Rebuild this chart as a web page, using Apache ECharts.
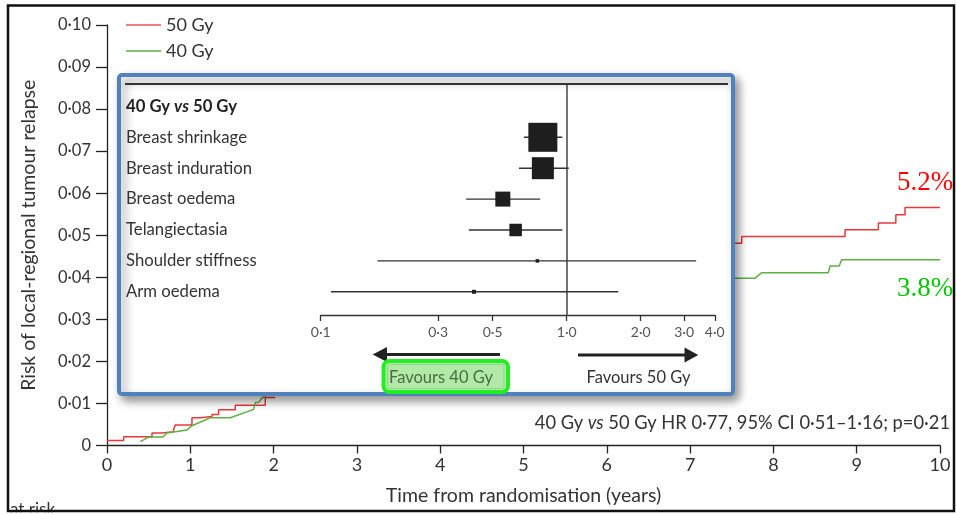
<!DOCTYPE html>
<html><head><meta charset="utf-8">
<script src="https://cdn.jsdelivr.net/npm/echarts@6/dist/echarts.min.js"></script>
<style>html,body{margin:0;padding:0;background:#fff;}#c{width:956px;height:515px;}</style>
</head><body><div id="c"></div>
<script>
// ---------- main chart data (time in years, cumulative risk) ----------
// null marks the part hidden behind the inset panel
const gy50Time = [0, 0.20, 0.54, 0.66, 0.80, 0.82, 1.02, 1.12, 1.26, 1.34, 1.54, 1.90, 2.02, null, 7.50, 7.62, 8.86, 9.26, 9.47, 9.58, 10.0];
const gy50Risk = [0.0012, 0.0021, 0.0030, 0.0033, 0.0039, 0.0049, 0.0066, 0.0069, 0.0074, 0.0085, 0.0096, 0.0114, 0.0114, null, 0.0481, 0.0497, 0.0513, 0.0529, 0.0549, 0.0566, 0.0566];
const gy40Time = [0.40, 0.50, 0.67, 0.72, 0.96, 1.02, 1.24, 1.48, 1.76, 1.78, 1.82, 1.86, 1.90, null, 7.50, 7.78, 7.86, 8.66, 8.68, 8.79, 8.82, 10.0];
const gy40Risk = [0.0009, 0.0020, 0.0020, 0.0030, 0.0037, 0.0047, 0.0066, 0.0066, 0.0086, 0.0102, 0.0102, 0.0113, 0.0117, null, 0.0398, 0.0398, 0.0411, 0.0411, 0.0427, 0.0427, 0.0442, 0.0442];
const xTicks = [0, 1, 2, 3, 4, 5, 6, 7, 8, 9, 10];
const yTicks = [0, 0.01, 0.02, 0.03, 0.04, 0.05, 0.06, 0.07, 0.08, 0.09, 0.10];

// ---------- inset forest plot data ----------
const forestHeader = '40 Gy vs 50 Gy';
const outcomes = ['Breast shrinkage', 'Breast induration', 'Breast oedema', 'Telangiectasia', 'Shoulder stiffness', 'Arm oedema'];
const hr = [0.80, 0.80, 0.55, 0.62, 0.76, 0.42];
const ciLow = [0.67, 0.64, 0.39, 0.40, 0.17, 0.11];
const ciHigh = [0.96, 1.02, 0.78, 0.96, 3.36, 1.62];
const weight = [29, 22, 15, 12.5, 3.5, 4];
const forestTicks = [0.1, 0.3, 0.5, 1.0, 2.0, 3.0, 4.0];

// ---------- build ----------
const FONT = 'Lato';
const TXT = '#333';
const dot = s => String(s).replace('.', '\u00b7');
function pairs(t, r) { return t.map((x, i) => (x === null || r[i] === null) ? ['-', '-'] : [x, r[i]]); }
const L = Math.log10;

const chart = echarts.init(document.getElementById('c'), null, {renderer: 'canvas'});
const option = {
  animation: false,
  backgroundColor: '#fff',
  textStyle: {fontFamily: FONT},
  legend: {
    orient: 'vertical', left: 121, top: 10, padding: 5, itemWidth: 35, itemHeight: 1.5, itemGap: 6,
    icon: 'rect',
    data: ['50 Gy', '40 Gy'],
    textStyle: {fontFamily: FONT, fontSize: 18, color: TXT, lineHeight: 20}
  },
  grid: [
    {left: 107, top: 25, width: 833, height: 420.5},
    {left: 320.7, top: 83.5, width: 394.1, height: 231.5, z: 10}
  ],
  xAxis: [
    {gridIndex: 0, type: 'value', min: xTicks[0], max: xTicks[xTicks.length - 1], interval: 1,
     name: 'Time from randomisation (years)', nameLocation: 'middle', nameGap: 40,
     nameTextStyle: {fontFamily: FONT, fontSize: 19.5, color: TXT},
     axisLine: {show: true, onZero: false, lineStyle: {color: '#222', width: 1.3}},
     axisTick: {show: true, inside: false, length: 8, lineStyle: {color: '#222', width: 1.3}},
     axisLabel: {fontFamily: FONT, fontSize: 18, color: TXT, margin: 11},
     splitLine: {show: false}},
    {gridIndex: 1, type: 'value', min: L(forestTicks[0]), max: L(forestTicks[forestTicks.length - 1]), z: 10,
     axisLine: {show: true, onZero: false, lineStyle: {color: '#333', width: 1.3}},
     axisTick: {show: true, inside: false, length: 6, customValues: forestTicks.map(L), lineStyle: {color: '#333', width: 1.3}},
     axisLabel: {customValues: forestTicks.map(L), fontFamily: FONT, fontSize: 14, color: '#555', margin: 10,
       formatter: v => dot(Math.pow(10, v).toFixed(1))},
     splitLine: {show: false}}
  ],
  yAxis: [
    {gridIndex: 0, type: 'value', min: yTicks[0], max: yTicks[yTicks.length - 1], interval: 0.01,
     name: 'Risk of local-regional tumour relapse', nameLocation: 'middle', nameGap: 68,
     nameTextStyle: {fontFamily: FONT, fontSize: 19.5, color: TXT},
     axisLine: {show: true, onZero: false, lineStyle: {color: '#222', width: 1.3}},
     axisTick: {show: true, inside: false, length: 11, lineStyle: {color: '#222', width: 1.3}},
     axisLabel: {fontFamily: FONT, fontSize: 16.5, color: TXT, margin: 16,
       formatter: v => v === 0 ? '0' : dot(v.toFixed(2))},
     splitLine: {show: false}},
    {gridIndex: 1, type: 'value', inverse: true, min: -0.741, max: 6.751, z: 10,
     axisLine: {show: false}, axisTick: {show: false}, splitLine: {show: false},
     axisLabel: {customValues: [0, 1, 2, 3, 4, 5, 6], align: 'left', margin: 194.7,
       fontFamily: FONT, fontSize: 16.7, color: TXT,
       formatter: v => {
         const i = Math.round(v);
         if (i === 0) { const p = forestHeader.split(' vs '); return '{h|' + p[0] + ' }{hv|vs}{h| ' + p[1] + '}'; }
         return outcomes[i - 1];
       },
       rich: {
         h: {fontFamily: FONT, fontSize: 16.7, fontWeight: 'bold', color: '#222'},
         hv: {fontFamily: FONT, fontSize: 16.7, fontWeight: 'bold', fontStyle: 'italic', color: '#222'}
       }}}
  ],
  series: [
    {name: '50 Gy', type: 'line', xAxisIndex: 0, yAxisIndex: 0, step: 'end', symbol: 'none',
     data: pairs(gy50Time, gy50Risk), connectNulls: false,
     lineStyle: {color: '#e8383a', width: 1.5}, itemStyle: {color: '#ee5555'}, z: 2},
    {name: '40 Gy', type: 'line', xAxisIndex: 0, yAxisIndex: 0, symbol: 'none',
     data: pairs(gy40Time, gy40Risk), connectNulls: false,
     lineStyle: {color: '#5fb043', width: 1.5}, itemStyle: {color: '#5fb043'}, z: 2},
    {name: 'ci', type: 'custom', coordinateSystem: 'cartesian2d', xAxisIndex: 1, yAxisIndex: 1, z: 10,
     data: outcomes.map((o, i) => [L(ciLow[i]), L(ciHigh[i]), i + 1]),
     encode: {x: [0, 1], y: 2},
     renderItem: (params, api) => {
       const a = api.coord([api.value(0), api.value(2)]);
       const b = api.coord([api.value(1), api.value(2)]);
       return {type: 'line', shape: {x1: a[0], y1: a[1], x2: b[0], y2: b[1]},
               style: {stroke: '#333', lineWidth: 1.4}};
     }},
    {name: 'hr', type: 'scatter', xAxisIndex: 1, yAxisIndex: 1, z: 11, symbol: 'rect',
     data: outcomes.map((o, i) => [L(hr[i]), i + 1]),
     symbolSize: (v, p) => weight[p.dataIndex],
     itemStyle: {color: '#1e1e1e', opacity: 1},
     markLine: {silent: true, symbol: 'none', label: {show: false},
       lineStyle: {color: '#444', width: 1.5, type: 'solid'}, data: [{xAxis: 0}]}}
  ],
  graphic: [
    {type: 'rect', z: 5, shape: {x: 119, y: 75, width: 614, height: 319, r: 3},
     style: {fill: '#fff', stroke: '#4f81bd', lineWidth: 4, shadowBlur: 10, shadowOffsetX: 4, shadowOffsetY: 5, shadowColor: 'rgba(0,0,0,0.4)'}},
    {type: 'line', z: 6, shape: {x1: 125, y1: 84, x2: 728, y2: 84}, style: {stroke: '#333', lineWidth: 2}},
    {type: 'line', z: 6, shape: {x1: 500, y1: 354.5, x2: 384, y2: 354.5}, style: {stroke: '#222', lineWidth: 3}},
    {type: 'polygon', z: 6, shape: {points: [[372.7, 354.5], [387, 347], [387, 362]]}, style: {fill: '#222'}},
    {type: 'line', z: 6, shape: {x1: 578, y1: 355, x2: 687, y2: 355}, style: {stroke: '#222', lineWidth: 3}},
    {type: 'polygon', z: 6, shape: {points: [[698.3, 355], [684.5, 347.5], [684.5, 362.5]]}, style: {fill: '#222'}},
    {type: 'rect', z: 7, shape: {x: 383.5, y: 361, width: 124.5, height: 31, r: 6},
     style: {fill: '#b0eaa6', stroke: '#22ee22', lineWidth: 4}},
    {type: 'rect', z: 7, shape: {x: 387.5, y: 364.5, width: 116.5, height: 24, r: 2},
     style: {fill: 'none', stroke: '#8fd68a', lineWidth: 1}},
    {type: 'text', z: 8, style: {x: 441, y: 378, text: 'Favours 40 Gy', align: 'center', verticalAlign: 'middle',
     fontFamily: FONT, fontSize: 16.5, fill: '#4d6b45'}},
    {type: 'text', z: 8, style: {x: 638.5, y: 378, text: 'Favours 50 Gy', align: 'center', verticalAlign: 'middle',
     fontFamily: FONT, fontSize: 16.5, fill: TXT}},
    {type: 'text', z: 3, style: {x: 950, y: 423, align: 'right', verticalAlign: 'middle',
     text: '{a|40 Gy }{i|vs}{a| 50 Gy HR 0\u00b777, 95% CI 0\u00b751\u20131\u00b716; p=0\u00b721}',
     rich: {a: {fontFamily: FONT, fontSize: 18.3, fill: TXT}, i: {fontFamily: FONT, fontSize: 18.3, fontStyle: 'italic', fill: TXT}}}},
    {type: 'text', z: 50, style: {x: 897, y: 183, text: '5.2%', verticalAlign: 'middle',
     fontFamily: 'Liberation Serif', fontSize: 27, fill: '#ff0000'}},
    {type: 'text', z: 50, style: {x: 897, y: 289, text: '3.8%', verticalAlign: 'middle',
     fontFamily: 'Liberation Serif', fontSize: 27, fill: '#00c800'}},
    {type: 'text', z: 50, style: {x: 10, y: 501, text: 'at risk', verticalAlign: 'top',
     fontFamily: FONT, fontSize: 17, fill: TXT}},
    {type: 'rect', z: 99, shape: {x: 0, y: 512.3, width: 956, height: 3}, style: {fill: '#fff'}},
    {type: 'rect', z: 100, shape: {x: 8, y: 5.5, width: 946, height: 505.5},
     style: {fill: 'none', stroke: '#111', lineWidth: 2.5}}
  ]
};
chart.setOption(option);
</script></body></html>
